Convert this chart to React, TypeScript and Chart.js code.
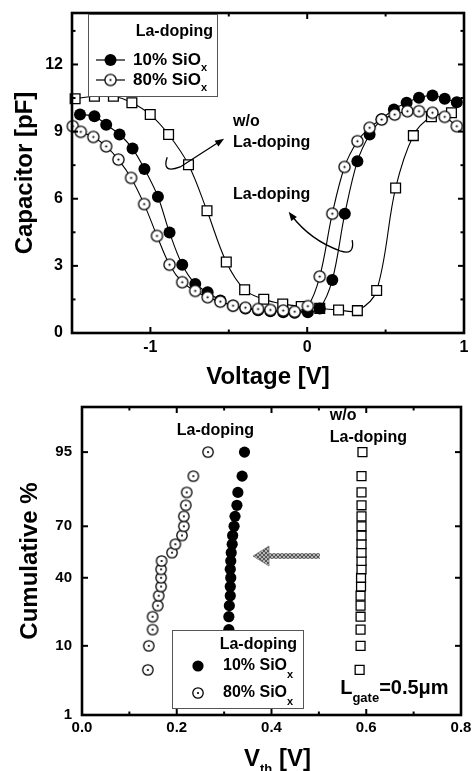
import React, { useEffect, useRef } from 'react';
import { Chart, registerables } from 'chart.js';
Chart.register(...registerables);

const FONT = "'Liberation Sans', Arial, Helvetica, sans-serif";

// ---------- Top panel: C-V curves ----------
const cvVoltageWo = [-1.48, -1.357, -1.236, -1.118, -1.001, -0.884, -0.757, -0.639, -0.516, -0.399, -0.277, -0.156, -0.038, 0.08, 0.2, 0.32, 0.443, 0.564, 0.677, 0.792, 0.92];
const cvCapWo = [10.47, 10.58, 10.58, 10.29, 9.76, 8.87, 7.52, 5.46, 3.17, 1.93, 1.51, 1.3, 1.18, 1.1, 1.03, 1.0, 1.9, 6.48, 8.82, 9.66, 9.84];
const cvVoltage10 = [-1.449, -1.357, -1.282, -1.197, -1.114, -1.038, -0.952, -0.878, -0.797, -0.714, -0.635, -0.554, -0.473, -0.394, -0.313, -0.235, -0.153, -0.08, 0.004, 0.08, 0.16, 0.24, 0.32, 0.398, 0.475, 0.553, 0.634, 0.713, 0.799, 0.877, 0.954];
const cvCap10 = [9.76, 9.69, 9.31, 8.87, 8.24, 7.33, 6.09, 4.49, 3.05, 2.19, 1.82, 1.45, 1.22, 1.1, 1.02, 0.97, 0.93, 0.9, 0.93, 1.1, 2.37, 5.33, 7.67, 8.87, 9.55, 9.99, 10.29, 10.51, 10.61, 10.47, 10.31];
const cvVoltage80 = [-1.495, -1.444, -1.364, -1.282, -1.204, -1.123, -1.04, -0.958, -0.878, -0.797, -0.714, -0.635, -0.554, -0.473, -0.394, -0.313, -0.235, -0.153, -0.08, 0.004, 0.08, 0.16, 0.238, 0.32, 0.398, 0.475, 0.558, 0.639, 0.713, 0.799, 0.877, 0.954];
const cvCap80 = [9.24, 8.99, 8.76, 8.34, 7.75, 6.93, 5.76, 4.34, 3.05, 2.27, 1.88, 1.6, 1.4, 1.22, 1.13, 1.07, 1.03, 1.0, 0.95, 1.2, 2.52, 5.33, 7.42, 8.57, 9.17, 9.54, 9.76, 9.91, 9.91, 9.84, 9.66, 9.24];
const cvXTicks = [-1, 0, 1];
const cvXMinorTicks = [-0.5, 0.5];
const cvYTicks = [0, 3, 6, 9, 12];
const cvYMinorTicks = [1.5, 4.5, 7.5, 10.5, 13.5];

// ---------- Bottom panel: Vth cumulative distribution ----------
const cumPercent = [5, 10, 15, 20, 25, 30, 35, 40, 45, 50, 55, 60, 65, 70, 75, 80, 85, 90, 95];
const vth10 = [0.31, 0.31, 0.31, 0.31, 0.311, 0.313, 0.313, 0.314, 0.313, 0.314, 0.315, 0.317, 0.318, 0.321, 0.323, 0.327, 0.329, 0.338, 0.343];
const vth80 = [0.139, 0.141, 0.149, 0.149, 0.16, 0.162, 0.167, 0.167, 0.167, 0.168, 0.19, 0.197, 0.211, 0.215, 0.215, 0.219, 0.221, 0.235, 0.266];
const vthWo = [0.586, 0.588, 0.588, 0.588, 0.588, 0.588, 0.589, 0.589, 0.59, 0.59, 0.59, 0.59, 0.59, 0.59, 0.59, 0.59, 0.59, 0.59, 0.592];
const vthXTicks = [0, 0.2, 0.4, 0.6, 0.8];
const vthXMinorTicks = [0.1, 0.3, 0.5, 0.7];
const cumTicks = [1, 10, 40, 70, 95];

// inverse standard normal CDF (probability-paper axis)
function probit(p: number): number {
  const a = [-3.969683028665376e1, 2.209460984245205e2, -2.759285104469687e2, 1.38357751867269e2, -3.066479806614716e1, 2.506628277459239];
  const b = [-5.447609879822406e1, 1.615858368580409e2, -1.556989798598866e2, 6.680131188771972e1, -1.328068155288572e1];
  const c = [-7.784894002430293e-3, -3.223964580411365e-1, -2.400758277161838, -2.549732539343734, 4.374664141464968, 2.938163982698783];
  const d = [7.784695709041462e-3, 3.224671290700398e-1, 2.445134137142996, 3.754408661907416];
  const pl = 0.02425;
  if (p < pl) {
    const q = Math.sqrt(-2 * Math.log(p));
    return (((((c[0] * q + c[1]) * q + c[2]) * q + c[3]) * q + c[4]) * q + c[5]) / ((((d[0] * q + d[1]) * q + d[2]) * q + d[3]) * q + 1);
  }
  if (p <= 1 - pl) {
    const q = p - 0.5;
    const r = q * q;
    return ((((((a[0] * r + a[1]) * r + a[2]) * r + a[3]) * r + a[4]) * r + a[5]) * q) / (((((b[0] * r + b[1]) * r + b[2]) * r + b[3]) * r + b[4]) * r + 1);
  }
  const q = Math.sqrt(-2 * Math.log(1 - p));
  return -(((((c[0] * q + c[1]) * q + c[2]) * q + c[3]) * q + c[4]) * q + c[5]) / ((((d[0] * q + d[1]) * q + d[2]) * q + d[3]) * q + 1);
}
const Z_MIN = probit(0.01);
const Z_MAX = probit(0.99);

function makeOpenCircle(r: number, lw: number, dot: number): HTMLCanvasElement {
  const size = Math.ceil(2 * r + lw + 2);
  const cv = document.createElement('canvas');
  cv.width = size;
  cv.height = size;
  const ctx = cv.getContext('2d')!;
  ctx.beginPath();
  ctx.arc(size / 2, size / 2, r, 0, Math.PI * 2);
  ctx.fillStyle = '#fff';
  ctx.fill();
  ctx.lineWidth = lw;
  ctx.strokeStyle = '#000';
  ctx.stroke();
  ctx.beginPath();
  ctx.arc(size / 2, size / 2, dot, 0, Math.PI * 2);
  ctx.fillStyle = '#000';
  ctx.fill();
  return cv;
}

function makeHatch(ctx: CanvasRenderingContext2D): CanvasPattern | string {
  const cv = document.createElement('canvas');
  cv.width = 4;
  cv.height = 4;
  const c = cv.getContext('2d')!;
  c.fillStyle = '#b4b4b4';
  c.fillRect(0, 0, 4, 4);
  c.strokeStyle = '#555';
  c.lineWidth = 1;
  c.beginPath();
  c.moveTo(0, 0);
  c.lineTo(4, 4);
  c.moveTo(4, 0);
  c.lineTo(0, 4);
  c.stroke();
  return ctx.createPattern(cv, 'repeat') || '#888';
}

function font(size: number) {
  return `bold ${size}px ${FONT}`;
}

function drawSubText(ctx: CanvasRenderingContext2D, x: number, y: number, parts: { t: string; size: number; dy: number }[], align: 'left' | 'center' = 'left') {
  let total = 0;
  for (const p of parts) {
    ctx.font = font(p.size);
    total += ctx.measureText(p.t).width;
  }
  let cx = align === 'center' ? x - total / 2 : x;
  ctx.textAlign = 'left';
  ctx.textBaseline = 'middle';
  for (const p of parts) {
    ctx.font = font(p.size);
    ctx.fillText(p.t, cx, y + p.dy);
    cx += ctx.measureText(p.t).width;
  }
}

function drawFrameTicks(chart: any, xMajor: number[], xMinor: number[], yMajor: number[], yMinor: number[]) {
  const { ctx, chartArea } = chart;
  const { left, right, top, bottom } = chartArea;
  const xs = chart.scales.x;
  const ys = chart.scales.y;
  ctx.save();
  ctx.strokeStyle = '#000';
  ctx.lineWidth = 2;
  const tick = (x1: number, y1: number, x2: number, y2: number) => {
    ctx.beginPath();
    ctx.moveTo(x1, y1);
    ctx.lineTo(x2, y2);
    ctx.stroke();
  };
  for (const v of xMajor) {
    const p = xs.getPixelForValue(v);
    tick(p, bottom, p, bottom - 6);
    tick(p, top, p, top + 6);
  }
  for (const v of xMinor) {
    const p = xs.getPixelForValue(v);
    tick(p, bottom, p, bottom - 3.5);
    tick(p, top, p, top + 3.5);
  }
  for (const v of yMajor) {
    const p = ys.getPixelForValue(v);
    tick(left, p, left + 6, p);
    tick(right, p, right - 6, p);
  }
  for (const v of yMinor) {
    const p = ys.getPixelForValue(v);
    tick(left, p, left + 3.5, p);
    tick(right, p, right - 3.5, p);
  }
  ctx.lineWidth = 2.6;
  ctx.strokeRect(left, top, right - left, bottom - top);
  ctx.restore();
}

function arrowHead(ctx: CanvasRenderingContext2D, fx: number, fy: number, tx: number, ty: number, len: number, wid: number) {
  const ang = Math.atan2(ty - fy, tx - fx);
  ctx.beginPath();
  ctx.moveTo(tx, ty);
  ctx.lineTo(tx - len * Math.cos(ang) + wid * Math.sin(ang), ty - len * Math.sin(ang) - wid * Math.cos(ang));
  ctx.lineTo(tx - len * Math.cos(ang) - wid * Math.sin(ang), ty - len * Math.sin(ang) + wid * Math.cos(ang));
  ctx.closePath();
  ctx.fill();
}

const xyPoints = (xs: number[], ys: number[]) => xs.map((x, i) => ({ x, y: ys[i] }));

const noPadX = (h: number) => (s: any) => {
  s.height = h;
  s.paddingLeft = 0;
  s.paddingRight = 0;
};
const noPadY = (w: number) => (s: any) => {
  s.width = w;
  s.paddingTop = 0;
  s.paddingBottom = 0;
};

function TopChart() {
  const ref = useRef<HTMLCanvasElement>(null);
  useEffect(() => {
    const openImg = makeOpenCircle(5.6, 1.3, 1.1);
    const plugin = {
      id: 'cvDecor',
      afterDatasetsDraw(chart: any) {
        const { ctx, chartArea } = chart;
        const xs = chart.scales.x;
        const ys = chart.scales.y;
        const X = (v: number) => xs.getPixelForValue(v);
        const Y = (v: number) => ys.getPixelForValue(v);
        drawFrameTicks(chart, cvXTicks, cvXMinorTicks, cvYTicks, cvYMinorTicks);
        ctx.save();
        ctx.fillStyle = '#000';
        ctx.strokeStyle = '#000';
        // annotations
        ctx.font = font(16);
        ctx.textAlign = 'left';
        ctx.textBaseline = 'middle';
        ctx.fillText('w/o', X(-0.473), Y(9.43));
        ctx.fillText('La-doping', X(-0.473), Y(8.49));
        ctx.fillText('La-doping', X(-0.473), Y(6.17));
        // arrow 1
        ctx.lineWidth = 1.3;
        ctx.beginPath();
        ctx.moveTo(X(-0.893), Y(7.85));
        ctx.quadraticCurveTo(X(-0.93), Y(7.1), X(-0.81), Y(7.42));
        ctx.lineTo(X(-0.56), Y(8.55));
        ctx.stroke();
        arrowHead(ctx, X(-0.81), Y(7.42), X(-0.53), Y(8.68), 9, 3.5);
        // arrow 2
        ctx.beginPath();
        ctx.moveTo(X(0.287), Y(4.15));
        ctx.quadraticCurveTo(X(0.305), Y(3.45), X(0.21), Y(3.67));
        ctx.quadraticCurveTo(X(0.02), Y(4.15), X(-0.1), Y(5.25));
        ctx.stroke();
        arrowHead(ctx, X(0.0), Y(4.3), X(-0.118), Y(5.42), 9, 3.5);
        // legend
        const bx = chartArea.left + 16;
        const by = chartArea.top + 1;
        const bw = 129;
        const bh = 82;
        ctx.fillStyle = '#fff';
        ctx.fillRect(bx, by, bw, bh);
        ctx.lineWidth = 1;
        ctx.strokeStyle = '#555';
        ctx.strokeRect(bx + 0.5, by + 0.5, bw, bh);
        ctx.fillStyle = '#000';
        ctx.strokeStyle = '#000';
        ctx.font = font(16);
        ctx.textAlign = 'right';
        ctx.fillText('La-doping', bx + bw - 4, by + 18);
        const rows = [
          { y: by + 46, label: '10% SiO', filled: true },
          { y: by + 66, label: '80% SiO', filled: false },
        ];
        for (const r of rows) {
          ctx.lineWidth = 1.2;
          ctx.beginPath();
          ctx.moveTo(bx + 8, r.y);
          ctx.lineTo(bx + 37, r.y);
          ctx.stroke();
          const mx = bx + 22.5;
          if (r.filled) {
            ctx.beginPath();
            ctx.arc(mx, r.y, 6, 0, Math.PI * 2);
            ctx.fill();
          } else {
            ctx.drawImage(openImg, mx - openImg.width / 2, r.y - openImg.height / 2);
          }
          drawSubText(ctx, bx + 45, r.y, [
            { t: r.label, size: 17, dy: 0 },
            { t: 'x', size: 11, dy: 8 },
          ]);
        }
        ctx.restore();
      },
    };
    const lineCommon = {
      borderColor: '#000',
      borderWidth: 1.1,
      tension: 0.35,
      showLine: true,
      clip: false as any,
      pointBorderColor: '#000',
    };
    const chart = new Chart(ref.current!, {
      type: 'scatter',
      data: {
        datasets: [
          {
            ...lineCommon,
            label: '80% SiOx',
            data: xyPoints(cvVoltage80, cvCap80),
            pointStyle: openImg as any,
            pointRadius: 6,
            order: 0,
          },
          {
            ...lineCommon,
            label: '10% SiOx',
            data: xyPoints(cvVoltage10, cvCap10),
            pointStyle: 'circle',
            pointRadius: 6,
            pointBackgroundColor: '#000',
            pointBorderWidth: 0,
            order: 1,
          },
          {
            ...lineCommon,
            label: 'w/o La-doping',
            data: xyPoints(cvVoltageWo, cvCapWo),
            pointStyle: 'rect',
            pointRadius: 6.9,
            pointBackgroundColor: '#fff',
            pointBorderWidth: 1.3,
            order: 2,
          },
        ],
      },
      options: {
        animation: false,
        responsive: true,
        maintainAspectRatio: false,
        layout: { padding: { top: 13, right: 11, left: 0, bottom: 0 } },
        plugins: { legend: { display: false }, tooltip: { enabled: false } },
        scales: {
          x: {
            type: 'linear',
            min: -1.5,
            max: 1,
            afterBuildTicks: (s: any) => {
              s.ticks = cvXTicks.map((v) => ({ value: v }));
            },
            afterFit: noPadX(62),
            grid: { display: false, drawTicks: false },
            border: { display: false },
            ticks: {
              color: '#000',
              font: { family: FONT, weight: 'bold', size: 16 },
              padding: 5,
              maxRotation: 0,
              autoSkip: false,
              callback: (v: any) => String(v),
            },
            title: {
              display: true,
              text: 'Voltage [V]',
              color: '#000',
              font: { family: FONT, weight: 'bold', size: 24 },
              padding: { top: 0, bottom: 3 },
            },
          },
          y: {
            type: 'linear',
            min: 0,
            max: 14.3,
            afterBuildTicks: (s: any) => {
              s.ticks = cvYTicks.map((v) => ({ value: v }));
            },
            afterFit: noPadY(72),
            grid: { display: false, drawTicks: false },
            border: { display: false },
            ticks: {
              color: '#000',
              font: { family: FONT, weight: 'bold', size: 16 },
              padding: 9,
              autoSkip: false,
              callback: (v: any) => String(v),
            },
            title: {
              display: true,
              text: 'Capacitor [pF]',
              color: '#000',
              font: { family: FONT, weight: 'bold', size: 24 },
              padding: { top: 11, bottom: 0 },
            },
          },
        },
      },
      plugins: [plugin],
    });
    return () => chart.destroy();
  }, []);
  return (
    <div style={{ position: 'absolute', left: 0, top: 0, width: 475, height: 395 }}>
      <canvas ref={ref} />
    </div>
  );
}

function BottomChart() {
  const ref = useRef<HTMLCanvasElement>(null);
  useEffect(() => {
    const openImg = makeOpenCircle(5.2, 1.3, 1.1);
    const cumZ = cumPercent.map((p) => probit(p / 100));
    const plugin = {
      id: 'vthDecor',
      afterDatasetsDraw(chart: any) {
        const { ctx, chartArea } = chart;
        const xs = chart.scales.x;
        const ys = chart.scales.y;
        const X = (v: number) => xs.getPixelForValue(v);
        const Y = (pct: number) => ys.getPixelForValue(probit(pct / 100));
        drawFrameTicks(chart, vthXTicks, vthXMinorTicks, cumTicks.map((p) => probit(p / 100)), []);
        ctx.save();
        ctx.fillStyle = '#000';
        ctx.font = font(16);
        ctx.textAlign = 'left';
        ctx.textBaseline = 'middle';
        ctx.fillText('La-doping', X(0.2), Y(97.6));
        ctx.fillText('w/o', X(0.523), Y(98.6));
        ctx.fillText('La-doping', X(0.523), Y(96.9));
        // L_gate
        drawSubText(ctx, X(0.545), Y(2.75), [
          { t: 'L', size: 20, dy: 0 },
          { t: 'gate', size: 13, dy: 10 },
          { t: '=0.5\u03bcm', size: 20, dy: 0 },
        ]);
        // gray hatched arrow
        const ay = Y(53);
        const tipX = X(0.361);
        const tailX = X(0.502);
        ctx.fillStyle = makeHatch(ctx);
        ctx.fillRect(tipX + 14, ay - 2.8, tailX - tipX - 14, 5.6);
        ctx.beginPath();
        ctx.moveTo(tipX, ay);
        ctx.lineTo(tipX + 16, ay - 10);
        ctx.lineTo(tipX + 16, ay + 10);
        ctx.closePath();
        ctx.fill();
        ctx.strokeStyle = '#777';
        ctx.lineWidth = 0.8;
        ctx.stroke();
        // legend
        const bw = 131;
        const bh = 78;
        const bx = chartArea.left + 90;
        const by = chartArea.bottom - 7 - bh;
        ctx.fillStyle = '#fff';
        ctx.fillRect(bx, by, bw, bh);
        ctx.lineWidth = 1;
        ctx.strokeStyle = '#555';
        ctx.strokeRect(bx + 0.5, by + 0.5, bw, bh);
        ctx.fillStyle = '#000';
        ctx.font = font(16);
        ctx.textAlign = 'right';
        ctx.fillText('La-doping', bx + bw - 6, by + 15);
        const rows = [
          { y: by + 36, label: '10% SiO', filled: true },
          { y: by + 63, label: '80% SiO', filled: false },
        ];
        for (const r of rows) {
          const mx = bx + 26;
          if (r.filled) {
            ctx.beginPath();
            ctx.arc(mx, r.y, 5.6, 0, Math.PI * 2);
            ctx.fill();
          } else {
            ctx.drawImage(openImg, mx - openImg.width / 2, r.y - openImg.height / 2);
          }
          drawSubText(ctx, bx + 51, r.y, [
            { t: r.label, size: 16, dy: 0 },
            { t: 'x', size: 11, dy: 9 },
          ]);
        }
        // x-axis title with subscript
        drawSubText(ctx, (chartArea.left + chartArea.right) / 2 + 6, chartArea.bottom + 44, [
          { t: 'V', size: 24, dy: 0 },
          { t: 'th', size: 13, dy: 10 },
          { t: ' [V]', size: 24, dy: 0 },
        ], 'center');
        ctx.restore();
      },
    };
    const chart = new Chart(ref.current!, {
      type: 'scatter',
      data: {
        datasets: [
          {
            label: '80% SiOx',
            data: xyPoints(vth80, cumZ),
            pointStyle: openImg as any,
            pointRadius: 5.5,
            clip: false as any,
          },
          {
            label: '10% SiOx',
            data: xyPoints(vth10, cumZ),
            pointStyle: 'circle',
            pointRadius: 5.6,
            pointBackgroundColor: '#000',
            pointBorderWidth: 0,
            clip: false as any,
          },
          {
            label: 'w/o La-doping',
            data: xyPoints(vthWo, cumZ),
            pointStyle: 'rect',
            pointRadius: 6.3,
            pointBackgroundColor: '#fff',
            pointBorderColor: '#000',
            pointBorderWidth: 1.3,
            clip: false as any,
          },
        ],
      },
      options: {
        animation: false,
        responsive: true,
        maintainAspectRatio: false,
        layout: { padding: { top: 12, right: 14, left: 0, bottom: 0 } },
        plugins: { legend: { display: false }, tooltip: { enabled: false } },
        scales: {
          x: {
            type: 'linear',
            min: 0,
            max: 0.8,
            afterBuildTicks: (s: any) => {
              s.ticks = vthXTicks.map((v) => ({ value: v }));
            },
            afterFit: noPadX(56),
            grid: { display: false, drawTicks: false },
            border: { display: false },
            ticks: {
              color: '#000',
              font: { family: FONT, weight: 'bold', size: 15 },
              padding: 4,
              maxRotation: 0,
              autoSkip: false,
              callback: (v: any) => Number(v).toFixed(1),
            },
          },
          y: {
            type: 'linear',
            min: Z_MIN,
            max: Z_MAX,
            afterBuildTicks: (s: any) => {
              s.ticks = cumTicks.map((p) => ({ value: probit(p / 100) }));
            },
            afterFit: noPadY(82),
            grid: { display: false, drawTicks: false },
            border: { display: false },
            ticks: {
              color: '#000',
              font: { family: FONT, weight: 'bold', size: 15 },
              padding: 10,
              autoSkip: false,
              callback: (_v: any, i: number) => String(cumTicks[i]),
            },
            title: {
              display: true,
              text: 'Cumulative %',
              color: '#000',
              font: { family: FONT, weight: 'bold', size: 24 },
              padding: { top: 16, bottom: 0 },
            },
          },
        },
      },
      plugins: [plugin],
    });
    return () => chart.destroy();
  }, []);
  return (
    <div style={{ position: 'absolute', left: 0, top: 395, width: 475, height: 376 }}>
      <canvas ref={ref} />
    </div>
  );
}

export default function App() {
  return (
    <div style={{ position: 'fixed', left: 0, top: 0, width: 475, height: 771, background: '#fff' }}>
      <TopChart />
      <BottomChart />
    </div>
  );
}
